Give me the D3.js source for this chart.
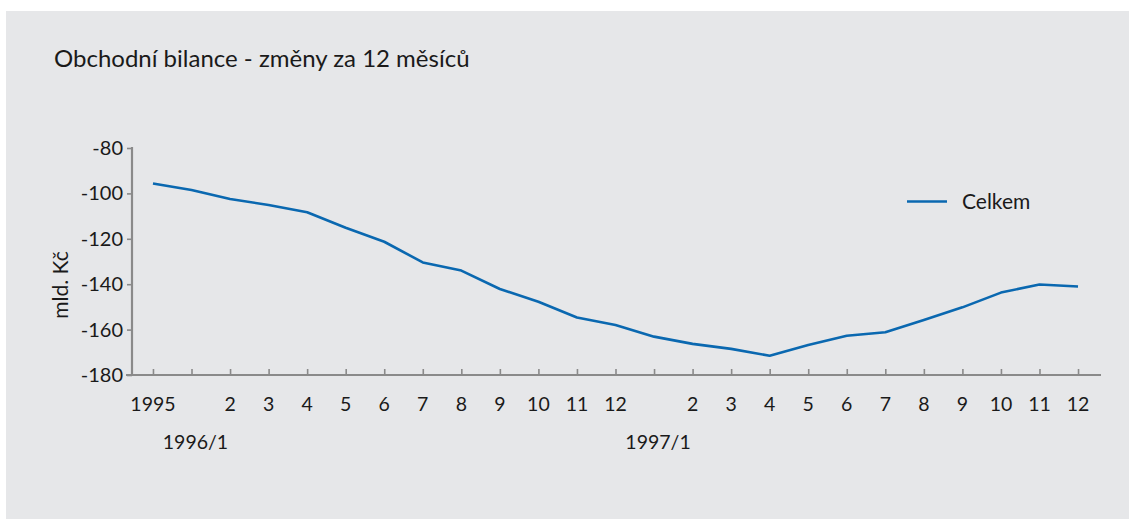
<!DOCTYPE html>
<html>
<head>
<meta charset="utf-8">
<script src="https://cdn.jsdelivr.net/npm/d3@7"></script>
<style>
  body { margin: 0; background: #fff; }
  text { font-family: Lato, "Open Sans", sans-serif; fill: #1a1a1a; }
</style>
</head>
<body>
<script>
// months from 1995/12 to 1997/12
var months = ['1995/12', '1996/1', '1996/2', '1996/3', '1996/4', '1996/5', '1996/6', '1996/7', '1996/8', '1996/9', '1996/10', '1996/11', '1996/12',
              '1997/1', '1997/2', '1997/3', '1997/4', '1997/5', '1997/6', '1997/7', '1997/8', '1997/9', '1997/10', '1997/11', '1997/12'];
var monthLabels = ['1995', '', '2', '3', '4', '5', '6', '7', '8', '9', '10', '11', '12',
                   '', '2', '3', '4', '5', '6', '7', '8', '9', '10', '11', '12'];
var yearLabels = ['1996/1', '1997/1'];
var celkem = [-95.6, -98.5, -102.5, -105.1, -108.3, -115.1, -121.3, -130.4, -134.0, -142.1, -147.7, -154.7, -158.0,
              -163.1, -166.3, -168.5, -171.5, -166.8, -162.7, -161.2, -155.8, -150.2, -143.7, -140.1, -141.0];
var yTicks = [-80, -100, -120, -140, -160, -180];

var svg = d3.select("body").append("svg").attr("width", 1129).attr("height", 519);

svg.append("rect")
    .attr("x", 6).attr("y", 11)
    .attr("width", 1123).attr("height", 508)
    .attr("fill", "#e6e7e9");

svg.append("text")
    .attr("x", 54).attr("y", 67)
    .attr("font-size", "24px")
    .text("Obchodní bilance - změny za 12 měsíců");

var x = d3.scalePoint()
    .domain(months)
    .range([131, 1100])
    .padding(0.57);

var y = d3.scaleLinear()
    .domain([-180, -80])
    .range([375, 148]);

var axisColor = "#8a8a8a";

// y axis
var yAxis = d3.axisLeft(y).tickValues(yTicks).tickSize(5).tickPadding(4)
    .tickFormat(d => String(d));
var gy = svg.append("g")
    .attr("transform", "translate(132,0)")
    .call(yAxis);
gy.select(".domain").attr("stroke", axisColor).attr("stroke-width", 2.2).attr("d", "M0,147V376");
gy.selectAll(".tick line").attr("stroke", axisColor).attr("stroke-width", 1.6);
gy.selectAll(".tick text")
    .attr("font-size", "20px")
    .attr("font-family", "Lato, sans-serif")
    .attr("fill", "#1a1a1a");

// x axis
var xAxis = d3.axisTop(x).tickSize(6).tickFormat("");
var gx = svg.append("g")
    .attr("transform", "translate(0,375)")
    .call(xAxis);
gx.select(".domain").attr("stroke", axisColor).attr("stroke-width", 2).attr("d", "M126,0H1101");
gx.selectAll(".tick line").attr("stroke", axisColor).attr("stroke-width", 1.6);

svg.selectAll("text.month")
    .data(months)
    .enter().append("text")
    .attr("class", "month")
    .attr("x", d => x(d))
    .attr("y", 411)
    .attr("text-anchor", "middle")
    .attr("font-size", "19.5px")
    .text((d, i) => monthLabels[i]);

svg.selectAll("text.year")
    .data(yearLabels)
    .enter().append("text")
    .attr("class", "year")
    .attr("x", d => x(d) + 4)
    .attr("y", 449)
    .attr("text-anchor", "middle")
    .attr("font-size", "19.5px")
    .text(d => d);

svg.append("text")
    .attr("transform", "translate(68,285) rotate(-90)")
    .attr("text-anchor", "middle")
    .attr("font-size", "21px")
    .text("mld. Kč");

var line = d3.line()
    .x((d, i) => x(months[i]))
    .y(d => y(d));

svg.append("path")
    .datum(celkem)
    .attr("d", line)
    .attr("fill", "none")
    .attr("stroke", "#0a68b0")
    .attr("stroke-width", 2.6)
    .attr("stroke-linejoin", "round");

// legend
svg.append("line")
    .attr("x1", 907).attr("x2", 947)
    .attr("y1", 201.5).attr("y2", 201.5)
    .attr("stroke", "#0a68b0")
    .attr("stroke-width", 2.6);
svg.append("text")
    .attr("x", 962).attr("y", 209)
    .attr("font-size", "21px")
    .text("Celkem");
</script>
</body>
</html>
